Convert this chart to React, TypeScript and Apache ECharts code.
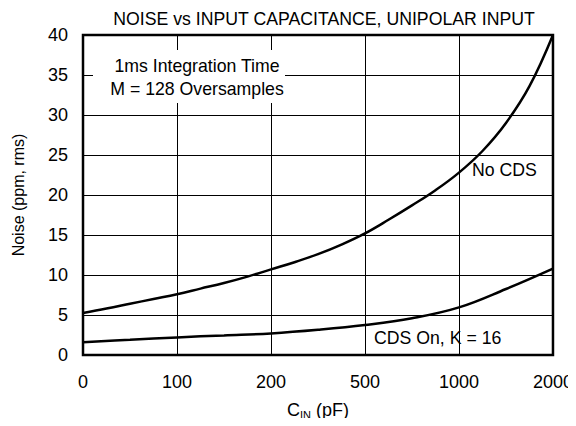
import React, { useEffect, useRef } from "react";
import * as echarts from "echarts";

const xTickLabels = ["0", "100", "200", "500", "1000", "2000"];

// x positions are tick indices (the labelled capacitances are equally spaced)
const noCdsPos = [0, 0.25, 0.5, 0.75, 1, 1.25, 1.5, 1.75, 2, 2.25, 2.5, 2.75, 3, 3.25, 3.5, 3.75, 4, 4.25, 4.5, 4.75, 5];
const noCdsVal = [5.25, 5.8, 6.4, 7.0, 7.6, 8.3, 9.0, 9.8, 10.7, 11.6, 12.6, 13.8, 15.2, 16.9, 18.7, 20.6, 22.8, 25.5, 29.0, 33.6, 40];

const cdsPos = [0, 0.5, 1, 1.5, 2, 2.5, 3, 3.5, 4, 4.5, 5];
const cdsVal = [1.6, 1.9, 2.2, 2.45, 2.7, 3.15, 3.75, 4.6, 5.95, 8.25, 10.8];

const FONT = "Liberation Sans, Arial, sans-serif";
const FS = 18;
const FT = 17.7;

export default function App() {
  const ref = useRef<HTMLDivElement>(null);
  useEffect(() => {
    if (!ref.current) return;
    const chart = echarts.init(ref.current, undefined, { renderer: "svg" });
    const line = (pos: number[], val: number[], name: string) => ({
      type: "line",
      name,
      data: pos.map((p, i) => [p, val[i]]),
      smooth: 0.4,
      showSymbol: false,
      lineStyle: { color: "#000", width: 2.5 },
      z: 5,
    });
    const txt = (text: string, x: number, y: number, align: string) => ({
      type: "text",
      x,
      y,
      style: { text, fontFamily: FONT, fontSize: FT, fill: "#000", align, verticalAlign: "middle" },
      z: 4,
    });
    chart.setOption({
      animation: false,
      backgroundColor: "#fff",
      title: {
        text: "NOISE vs INPUT CAPACITANCE, UNIPOLAR INPUT",
        left: 319,
        textAlign: "center",
        top: 5,
        textStyle: { fontFamily: FONT, fontSize: FT, fontWeight: "normal", color: "#000" },
      },
      grid: {
        left: 83,
        right: 21,
        top: 35,
        bottom: 71,
        show: true,
        borderColor: "#000",
        borderWidth: 2.5,
        backgroundColor: "transparent",
      },
      xAxis: {
        type: "value",
        min: 0,
        max: 5,
        interval: 1,
        name: "{a|C}{s|IN}{a| (pF)}",
        nameLocation: "middle",
        nameGap: 44,
        nameTextStyle: {
          rich: {
            a: { fontFamily: FONT, fontSize: FS, color: "#000" },
            s: { fontFamily: FONT, fontSize: 11, color: "#000", verticalAlign: "bottom", padding: [10, 0, 0, 0] },
          },
        },
        axisLine: { show: false },
        axisTick: { show: false },
        axisLabel: {
          fontFamily: FONT,
          fontSize: FS,
          color: "#000",
          margin: 18,
          formatter: (v: number) => xTickLabels[Math.round(v)] ?? "",
        },
        splitLine: { show: true, lineStyle: { color: "#000", width: 1 } },
      },
      yAxis: {
        type: "value",
        min: 0,
        max: 40,
        interval: 5,
        name: "Noise (ppm, rms)",
        nameLocation: "middle",
        nameGap: 57,
        nameTextStyle: { fontFamily: FONT, fontSize: 16, color: "#000" },
        axisLine: { show: false },
        axisTick: { show: false },
        axisLabel: { fontFamily: FONT, fontSize: FS, color: "#000", margin: 15 },
        splitLine: { show: true, lineStyle: { color: "#000", width: 1 } },
      },
      graphic: [
        { type: "rect", shape: { x: 93, y: 50, width: 192, height: 53 }, style: { fill: "#fff" }, z: 3 },
        txt("1ms Integration Time", 197, 66, "center"),
        txt("M = 128 Oversamples", 197, 89, "center"),
        txt("No CDS", 472, 170, "left"),
        txt("CDS On, K = 16", 374, 338, "left"),
      ],
      series: [line(noCdsPos, noCdsVal, "No CDS"), line(cdsPos, cdsVal, "CDS On, K = 16")],
    });
    return () => chart.dispose();
  }, []);
  return <div ref={ref} style={{ width: 576, height: 426, margin: -8 }} />;
}
